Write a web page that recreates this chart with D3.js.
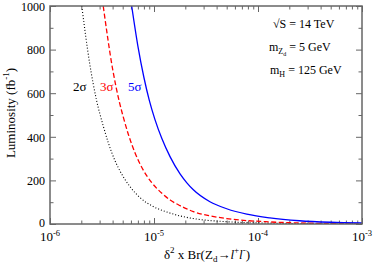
<!DOCTYPE html>
<html lang="en">
<head>
<meta charset="utf-8">
<title>Luminosity vs branching</title>
<script src="https://d3js.org/d3.v7.min.js"></script>
<style>
  body { margin: 0; background: #fff; }
</style>
</head>
<body>
<div id="chart"></div>
<script>
// values: x = delta^2 x Br, y = luminosity (fb^-1)
const x5 = [6.1e-6, 7e-6, 8e-6, 9e-6, 1.02e-5, 1.19e-5, 1.43e-5, 1.78e-5, 2.07e-5, 2.39e-5, 3.45e-5, 5.0e-5, 7.8e-5, 1.3e-4, 2.5e-4, 5.0e-4, 1.0e-3];
const lum5 = [1000, 816, 672, 568, 480, 392, 308, 230, 189, 157, 102, 70, 45, 28, 15, 8, 4.5];

const x3 = [3.25e-6, 4.0e-6, 4.64e-6, 5.07e-6, 5.66e-6, 6.56e-6, 7.89e-6, 9.51e-6, 1.19e-5, 1.43e-5, 1.78e-5, 2.07e-5, 2.39e-5, 3.45e-5, 5.0e-5, 1.3e-4, 3.0e-4, 1.0e-3];
const lum3 = [1000, 711, 561, 490, 412, 327, 247, 190, 141, 110, 84, 69, 57, 37.5, 25, 9.5, 4, 1.3];

const x2 = [2.02e-6, 2.4e-6, 2.81e-6, 3.25e-6, 3.64e-6, 4.22e-6, 4.89e-6, 5.87e-6, 7.33e-6, 9.84e-6, 1.33e-5, 1.78e-5, 2.39e-5, 5.0e-5, 1.3e-4, 4.0e-4, 1.0e-3];
const lum2 = [1000, 740, 565, 450, 372, 290, 229, 172, 121, 80, 55, 37, 25, 10.5, 4, 1.2, 0.5];

const xMajor = [1e-6, 1e-5, 1e-4, 1e-3];
const xExp = ["-6", "-5", "-4", "-3"];
const yMajor = [0, 200, 400, 600, 800, 1000];

const svg_width = 374, svg_height = 265;
const plot_left = 50, plot_right = 362, plot_top = 6, plot_bottom = 224;
const serif = "'Liberation Serif', 'Times New Roman', Times, 'DejaVu Serif', serif";

const svg = d3.select("#chart").append("svg")
  .attr("width", svg_width).attr("height", svg_height)
  .attr("font-family", serif);

const x = d3.scaleLog().domain([1e-6, 1e-3]).range([plot_left, plot_right]);
const y = d3.scaleLinear().domain([0, 1000]).range([plot_bottom, plot_top]);

// minor ticks
const xMinor = [];
xMajor.slice(0, 3).forEach(d => { for (let k = 2; k <= 9; k++) xMinor.push(d * k); });
const yMinor = d3.range(100, 1000, 200);

function styleAxis(g) {
  g.select(".domain").remove();
  g.selectAll(".tick line").attr("stroke", "#666").attr("stroke-width", 1);
}

svg.append("g").attr("transform", `translate(0,${plot_bottom})`)
  .call(d3.axisBottom(x).tickValues(xMajor).tickSize(-6).tickFormat("")).call(styleAxis);
svg.append("g").attr("transform", `translate(0,${plot_bottom})`)
  .call(d3.axisBottom(x).tickValues(xMinor).tickSize(-3.5).tickFormat("")).call(styleAxis);
svg.append("g").attr("transform", `translate(0,${plot_top})`)
  .call(d3.axisTop(x).tickValues(xMajor).tickSize(-6).tickFormat("")).call(styleAxis);
svg.append("g").attr("transform", `translate(0,${plot_top})`)
  .call(d3.axisTop(x).tickValues(xMinor).tickSize(-3.5).tickFormat("")).call(styleAxis);

svg.append("g").attr("transform", `translate(${plot_left},0)`)
  .call(d3.axisLeft(y).tickValues(yMajor).tickSize(-6).tickFormat("")).call(styleAxis);
svg.append("g").attr("transform", `translate(${plot_left},0)`)
  .call(d3.axisLeft(y).tickValues(yMinor).tickSize(-3.5).tickFormat("")).call(styleAxis);
svg.append("g").attr("transform", `translate(${plot_right},0)`)
  .call(d3.axisRight(y).tickValues(yMajor).tickSize(-6).tickFormat("")).call(styleAxis);
svg.append("g").attr("transform", `translate(${plot_right},0)`)
  .call(d3.axisRight(y).tickValues(yMinor).tickSize(-3.5).tickFormat("")).call(styleAxis);

// clip for curves
svg.append("clipPath").attr("id", "plot")
  .append("rect").attr("x", plot_left).attr("y", plot_top)
  .attr("width", plot_right - plot_left).attr("height", plot_bottom - plot_top);

const line = d3.line()
  .x(d => x(d[0])).y(d => y(d[1]))
  .curve(d3.curveMonotoneX);

const curves = [
  { xs: x2, ls: lum2, color: "#000", dash: "1,2", width: 1.1 },
  { xs: x3, ls: lum3, color: "#ff0000", dash: "5,2.5", width: 1.3 },
  { xs: x5, ls: lum5, color: "#0000ff", dash: null, width: 1.3 }
];

curves.forEach(c => {
  svg.append("path")
    .attr("clip-path", "url(#plot)")
    .attr("d", line(d3.zip(c.xs, c.ls)))
    .attr("fill", "none")
    .attr("stroke", c.color)
    .attr("stroke-width", c.width)
    .attr("stroke-dasharray", c.dash);
});

// frame
svg.append("rect")
  .attr("x", plot_left).attr("y", plot_top)
  .attr("width", plot_right - plot_left).attr("height", plot_bottom - plot_top)
  .attr("fill", "none").attr("stroke", "#666").attr("stroke-width", 1.5);

// y tick labels
svg.selectAll(".ylab").data(yMajor).enter().append("text")
  .attr("x", plot_left - 5).attr("y", d => d === 0 ? y(d) - 1 : y(d) + 0.5).attr("dy", "0.35em")
  .attr("text-anchor", "end").attr("font-size", 12)
  .text(d => d);

// x tick labels with exponent
xMajor.forEach((d, i) => {
  const t = svg.append("text")
    .attr("x", x(d)).attr("y", 241)
    .attr("text-anchor", "middle").attr("font-size", 13);
  t.append("tspan").text("10");
  t.append("tspan").attr("font-size", 8.5).attr("dy", -5).text(xExp[i]);
});

// axis titles
const xt = svg.append("text")
  .attr("x", 207).attr("y", 259)
  .attr("text-anchor", "middle").attr("font-size", 13);
xt.append("tspan").text("δ");
xt.append("tspan").attr("font-size", 9).attr("dy", -6).text("2");
xt.append("tspan").attr("dy", 6).text(" x Br(Z");
xt.append("tspan").attr("font-size", 9).attr("dy", 3).text("d");
xt.append("tspan").attr("dy", -3).text("→");
xt.append("tspan").attr("font-style", "italic").text("l");
xt.append("tspan").attr("font-size", 9).attr("dy", -6).text("+");
xt.append("tspan").attr("dy", 6).attr("font-style", "italic").text("l");
xt.append("tspan").attr("font-size", 9).attr("dy", -6).text("-");
xt.append("tspan").attr("dy", 6).text(")");

const yt = svg.append("text")
  .attr("transform", "translate(15,113) rotate(-90)")
  .attr("text-anchor", "middle").attr("font-size", 13);
yt.append("tspan").text("Luminosity  (fb");
yt.append("tspan").attr("font-size", 9).attr("dy", -6).text("-1");
yt.append("tspan").attr("dy", 6).text(")");

// curve labels
svg.append("text").attr("x", 73).attr("y", 91).attr("font-size", 13).text("2σ");
svg.append("text").attr("x", 100).attr("y", 91).attr("font-size", 13).attr("fill", "#ff0000").text("3σ");
svg.append("text").attr("x", 128).attr("y", 91).attr("font-size", 13).attr("fill", "#0000ff").text("5σ");

// annotations
svg.append("text").attr("x", 273).attr("y", 28).attr("font-size", 12).text("√S = 14 TeV");
const a2 = svg.append("text").attr("x", 269).attr("y", 51).attr("font-size", 12);
a2.append("tspan").text("m");
a2.append("tspan").attr("font-size", 8).attr("dy", 3).text("Z");
a2.append("tspan").attr("font-size", 6).attr("dy", 2).text("d");
a2.append("tspan").attr("dy", -5).text(" = 5 GeV");
const a3 = svg.append("text").attr("x", 270).attr("y", 74).attr("font-size", 12);
a3.append("tspan").text("m");
a3.append("tspan").attr("font-size", 8).attr("dy", 3).text("H");
a3.append("tspan").attr("dy", -3).text(" = 125 GeV");
</script>
</body>
</html>
